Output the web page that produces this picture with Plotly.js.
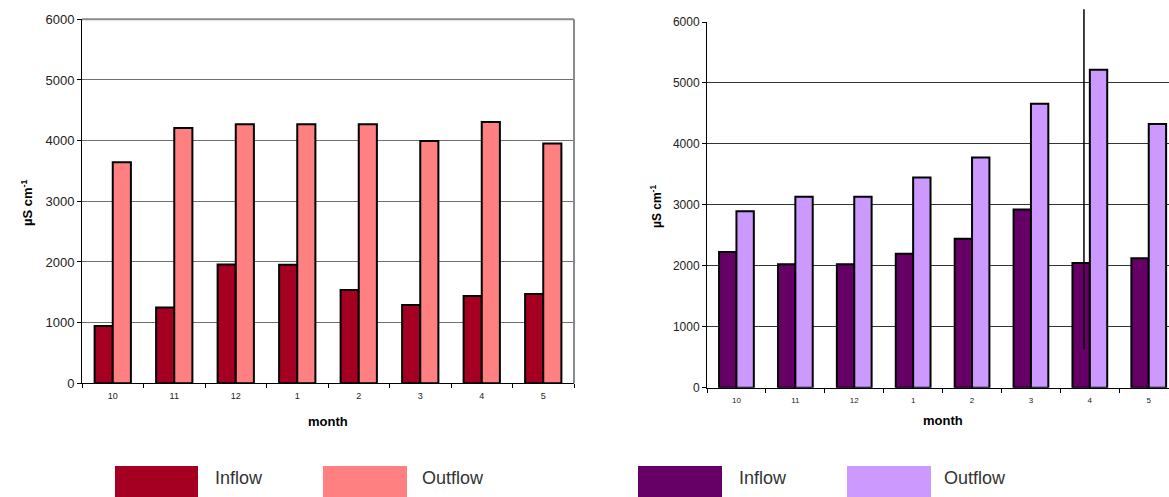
<!DOCTYPE html>
<html>
<head>
<meta charset="utf-8">
<script src="https://cdn.plot.ly/plotly-3.0.1.min.js"></script>
<style>html,body{margin:0;padding:0;background:#fff;}#chart{width:1169px;height:497px;}</style>
</head>
<body>
<div id="chart"></div>
<script>
// ---- data ----
const months = ['10', '11', '12', '1', '2', '3', '4', '5'];
const seriesNames = ['Inflow', 'Outflow'];
const leftInflow = [944, 1251, 1959, 1955, 1537, 1290, 1438, 1471];
const leftOutflow = [3644, 4210, 4270, 4270, 4270, 3996, 4308, 3952];
const rightInflow = [2226, 2024, 2024, 2199, 2444, 2924, 2046, 2122];
const rightOutflow = [2897, 3131, 3131, 3448, 3775, 4659, 5215, 4326];
const yTickVals = [0, 1000, 2000, 3000, 4000, 5000, 6000];
const yTitle = 'µS cm<sup>-1</sup>';
const xTitle = 'month';
// stray vertical line seen in the right panel (category index)
const strayLineX = 5.9;

// ---- styles ----
const colors = {
  leftIn: '#A50021', leftOut: '#FF8080',
  rightIn: '#660066', rightOut: '#CC99FF'
};
const font = 'Arial, "Liberation Sans", sans-serif';
const W = 1169, H = 497;
const px = v => v / W;
const py = v => (H - v) / H;

function bar(x, y, name, color, xa, ya) {
  return {
    type: 'bar', x: x, y: y, name: name, xaxis: xa, yaxis: ya,
    marker: { color: color, line: { color: '#000', width: 2 } },
    showlegend: false, hoverinfo: 'x+y+name'
  };
}

const data = [
  bar(months, leftInflow, seriesNames[0], colors.leftIn, 'x', 'y'),
  bar(months, leftOutflow, seriesNames[1], colors.leftOut, 'x', 'y'),
  bar(months, rightInflow, seriesNames[0], colors.rightIn, 'x2', 'y2'),
  bar(months, rightOutflow, seriesNames[1], colors.rightOut, 'x2', 'y2')
];

const xCommon = {
  type: 'category', showgrid: false, zeroline: false,
  showline: true, linecolor: '#000', linewidth: 1,
  ticks: 'outside', tickson: 'boundaries', ticklen: 4, tickcolor: '#000', tickwidth: 1,
  fixedrange: true
};
const yCommon = {
  range: [0, 6000], tickvals: yTickVals, ticktext: yTickVals.map(String),
  showline: true, linecolor: '#000', linewidth: 1,
  ticks: 'outside', ticklen: 4, tickcolor: '#000', zeroline: false,
  showgrid: true, gridwidth: 1, fixedrange: true
};

const layout = {
  width: W, height: H,
  margin: { l: 0, r: 0, t: 0, b: 0 },
  paper_bgcolor: '#fff', plot_bgcolor: '#fff',
  barmode: 'group', bargap: 0.41, bargroupgap: 0,
  font: { family: font, color: '#000' },
  xaxis: Object.assign({}, xCommon, {
    domain: [px(82), px(574)], anchor: 'y', range: [-0.5, 7.5],
    ticklabelstandoff: 4,
    tickfont: { size: 9, color: '#222' }
  }),
  yaxis: Object.assign({}, yCommon, {
    domain: [py(383.3), py(19.3)], anchor: 'x', gridcolor: '#707070',
    tickfont: { size: 13, color: '#222' }
  }),
  xaxis2: Object.assign({}, xCommon, {
    domain: [px(707), 1], anchor: 'y2', range: [-0.5, 7.344],
    ticklabelstandoff: 5,
    tickfont: { size: 8, color: '#222' }
  }),
  yaxis2: Object.assign({}, yCommon, {
    domain: [py(387.7), py(22)], anchor: 'x2', gridcolor: '#333',
    tickfont: { size: 12, color: '#222' }
  }),
  shapes: [
    // grey frame (top/right) of the left panel
    { type: 'line', xref: 'x domain', yref: 'y domain', x0: 0, x1: 1, y0: 1, y1: 1,
      line: { color: '#8a8a8a', width: 2 } },
    { type: 'line', xref: 'x domain', yref: 'y domain', x0: 1, x1: 1, y0: 0, y1: 1,
      line: { color: '#8a8a8a', width: 2 } },
    // stray vertical line in the right panel
    { type: 'line', xref: 'x2', yref: 'paper', x0: strayLineX, x1: strayLineX,
      y0: py(349.3), y1: py(9.3), line: { color: '#000', width: 1.5 } },
    // legend swatches
    { type: 'rect', xref: 'paper', yref: 'paper', x0: px(115), x1: px(198), y0: py(497), y1: py(466),
      fillcolor: colors.leftIn, line: { width: 0 } },
    { type: 'rect', xref: 'paper', yref: 'paper', x0: px(323), x1: px(407), y0: py(497), y1: py(466),
      fillcolor: colors.leftOut, line: { width: 0 } },
    { type: 'rect', xref: 'paper', yref: 'paper', x0: px(638), x1: px(722), y0: py(497), y1: py(466),
      fillcolor: colors.rightIn, line: { width: 0 } },
    { type: 'rect', xref: 'paper', yref: 'paper', x0: px(847), x1: px(931), y0: py(497), y1: py(466),
      fillcolor: colors.rightOut, line: { width: 0 } }
  ],
  annotations: [
    { xref: 'paper', yref: 'paper', x: px(328), y: py(421), text: '<b>' + xTitle + '</b>',
      showarrow: false, font: { size: 13, color: '#000' }, xanchor: 'center', yanchor: 'middle' },
    { xref: 'paper', yref: 'paper', x: px(943), y: py(420), text: '<b>' + xTitle + '</b>',
      showarrow: false, font: { size: 13, color: '#000' }, xanchor: 'center', yanchor: 'middle' },
    { xref: 'paper', yref: 'paper', x: px(27), y: py(203), text: '<b>' + yTitle + '</b>', textangle: -90,
      showarrow: false, font: { size: 13, color: '#000' }, xanchor: 'center', yanchor: 'middle' },
    { xref: 'paper', yref: 'paper', x: px(656), y: py(207), text: '<b>' + yTitle + '</b>', textangle: -90,
      showarrow: false, font: { size: 12, color: '#000' }, xanchor: 'center', yanchor: 'middle' },
    { xref: 'paper', yref: 'paper', x: px(213), y: py(478), text: seriesNames[0], xanchor: 'left', yanchor: 'middle',
      showarrow: false, font: { size: 18, color: '#333' } },
    { xref: 'paper', yref: 'paper', x: px(420), y: py(478), text: seriesNames[1], xanchor: 'left', yanchor: 'middle',
      showarrow: false, font: { size: 18, color: '#333' } },
    { xref: 'paper', yref: 'paper', x: px(737), y: py(478), text: seriesNames[0], xanchor: 'left', yanchor: 'middle',
      showarrow: false, font: { size: 18, color: '#333' } },
    { xref: 'paper', yref: 'paper', x: px(942), y: py(478), text: seriesNames[1], xanchor: 'left', yanchor: 'middle',
      showarrow: false, font: { size: 18, color: '#333' } }
  ]
};

Plotly.newPlot('chart', data, layout, { staticPlot: true, displayModeBar: false });
</script>
</body>
</html>
